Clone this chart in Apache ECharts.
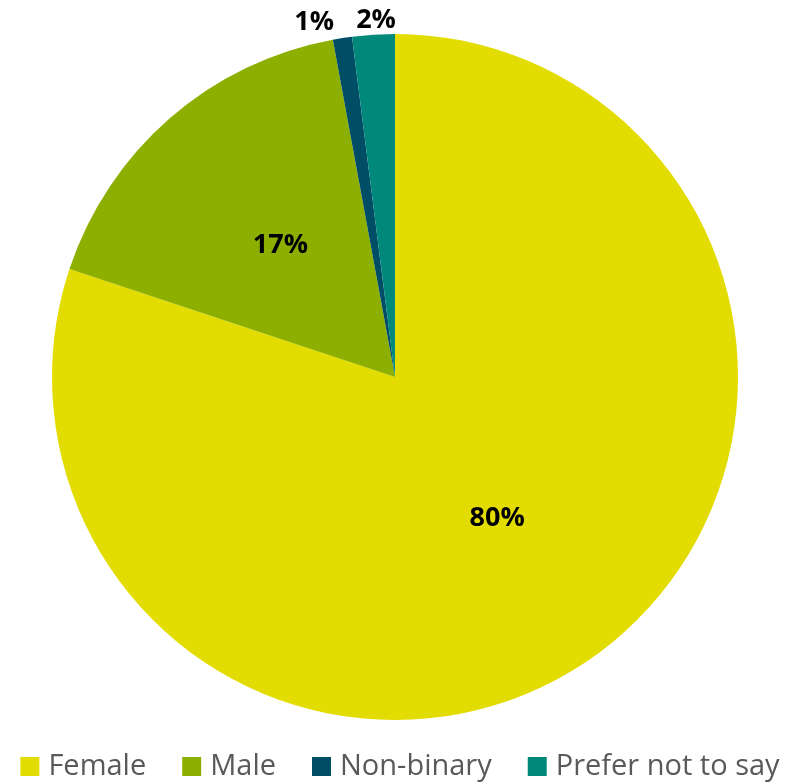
<!DOCTYPE html>
<html>
<head>
<meta charset="utf-8">
<script src="https://cdn.jsdelivr.net/npm/echarts@6/dist/echarts.min.js"></script>
<style>
  html, body { margin: 0; padding: 0; background: #fff; }
  #chart { width: 800px; height: 783px; }
</style>
</head>
<body>
<div id="chart"></div>
<script>
const categories = ['Female', 'Male', 'Non-binary', 'Prefer not to say']
const shares = [80.1, 17.0, 0.9, 2.0]
const colors = ['#e3dc00', '#8db000', '#004d66', '#00897a']
const labelFont = 'Open Sans'

// the two thin slices carry their labels above the pie rim
const thinOffsets = {
  'Non-binary': [-54, -182],
  'Prefer not to say': [-8, -183]
}

const chart = echarts.init(document.getElementById('chart'))

const data = categories.map((name, i) => {
  const item = { name: name, value: shares[i], itemStyle: { color: colors[i] } }
  if (thinOffsets[name]) {
    item.label = { offset: thinOffsets[name] }
  }
  return item
})

chart.setOption({
  backgroundColor: '#ffffff',
  animation: false,
  legend: {
    top: 747,
    left: 'center',
    icon: 'rect',
    itemWidth: 19,
    itemHeight: 19,
    itemGap: 36,
    textStyle: {
      color: '#595959',
      fontSize: 29,
      fontFamily: labelFont,
      padding: [0, 0, 0, 4]
    },
    data: categories
  },
  series: [{
    type: 'pie',
    center: [395, 377],
    radius: 343,
    startAngle: 90,
    clockwise: true,
    avoidLabelOverlap: false,
    label: {
      show: true,
      position: 'inside',
      color: '#000',
      fontSize: 27,
      fontWeight: 'bold',
      fontFamily: labelFont,
      formatter: (p) => Math.round(p.value) + '%'
    },
    labelLine: { show: false },
    emphasis: { disabled: true },
    data: data
  }]
})
</script>
</body>
</html>
